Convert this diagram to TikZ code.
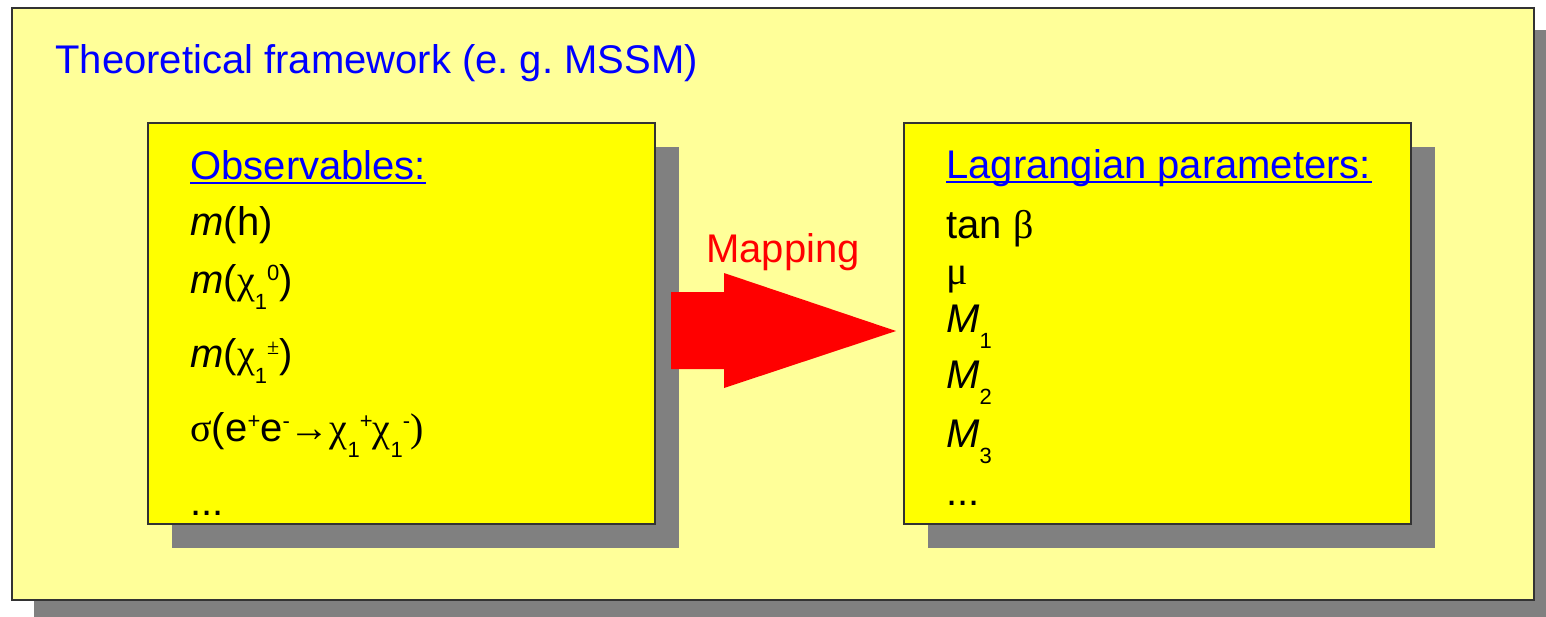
\documentclass[tikz,border=0pt]{standalone}
\usepackage{fontspec}
\setmainfont{Liberation Sans}
\newfontfamily\symf{Liberation Serif}
\usetikzlibrary{shadows}
\definecolor{paleyellow}{HTML}{FFFF99}
\definecolor{boxyellow}{HTML}{FFFF00}
\definecolor{shadowgray}{HTML}{808080}
\definecolor{txtblue}{HTML}{0000FF}
\definecolor{arrowred}{HTML}{FF0000}
\newcommand{\lo}[1]{\raisebox{-8pt}{\fontsize{11}{11}\selectfont #1}}
\newcommand{\hi}[1]{\raisebox{6.5pt}{\fontsize{11}{11}\selectfont #1}}
\newcommand{\gr}[1]{{\symf #1}}
\begin{document}
\begin{tikzpicture}[x=0.5pt,y=-0.5pt,
  panel/.style={draw=black!80, line width=0.75pt, anchor=north west, inner sep=0pt,
    drop shadow={shadow xshift=#1, shadow yshift=-#1, fill=shadowgray, opacity=1}},
  txtline/.style={anchor=base west, inner sep=0pt, font=\fontsize{20}{24}\selectfont},
  heading/.style={txtline, text=txtblue},
  uline/.style={txtblue, line width=1pt}]
\useasboundingbox (0,0) rectangle (1546,616);
% outer frame
\node[panel=11.25pt, fill=paleyellow, minimum width=761pt, minimum height=296pt] (frame) at (11,7) {};
\node[heading] (title) at (55,73) {Theoretical framework (e.\ g.\ MSSM)};
% left box
\node[panel=12pt, fill=boxyellow, minimum width=253.5pt, minimum height=200.5pt] (obsbox) at (147,122) {};
\node[heading] (obs) at (190,179) {Observables:};
\draw[uline] ([yshift=-2pt]obs.base west) -- ([yshift=-2pt]obs.base east);
\node[txtline] (o1) at (190,235) {\textit{m}(h)};
\node[txtline] (o2) at (190,293) {\textit{m}(\gr{χ}\lo{1}\hi{0})};
\node[txtline] (o3) at (190,367) {\textit{m}(\gr{χ}\lo{1}\hi{\gr{±}})};
\node[txtline] (o4) at (190,441) {\gr{σ}(e\hi{+}e\hi{-}\gr{→}\gr{χ}\lo{1}\hi{+}\gr{χ}\lo{1}\hi{-}\gr{)}};
\node[txtline] (o5) at (190,515) {...};
% right box
\node[panel=12pt, fill=boxyellow, minimum width=253.5pt, minimum height=200.5pt] (lagbox) at (903,122) {};
\node[heading] (lag) at (946,178) {Lagrangian parameters:};
\draw[uline] ([yshift=-2pt]lag.base west) -- ([yshift=-2pt]lag.base east);
\node[txtline] (l1) at (946,238) {tan \gr{β}};
\node[txtline] (l2) at (946,284) {\gr{μ}};
\node[txtline] (l3) at (946,332) {\textit{M}\lo{1}};
\node[txtline] (l4) at (946,388) {\textit{M}\lo{2}};
\node[txtline] (l5) at (946,447) {\textit{M}\lo{3}};
\node[txtline] (l6) at (946,505) {...};
% mapping arrow
\node[txtline, text=arrowred] (map) at (706,262) {Mapping};
\coordinate (a1) at (671,292);
\coordinate (a2) at (724,292);
\coordinate (a3) at (724,273);
\coordinate (tip) at (896,331);
\coordinate (a5) at (724,388);
\coordinate (a6) at (724,369);
\coordinate (a7) at (671,369);
\fill[arrowred] (a1) -- (a2) -- (a3) -- (tip) -- (a5) -- (a6) -- (a7) -- cycle;
\end{tikzpicture}
\end{document}
